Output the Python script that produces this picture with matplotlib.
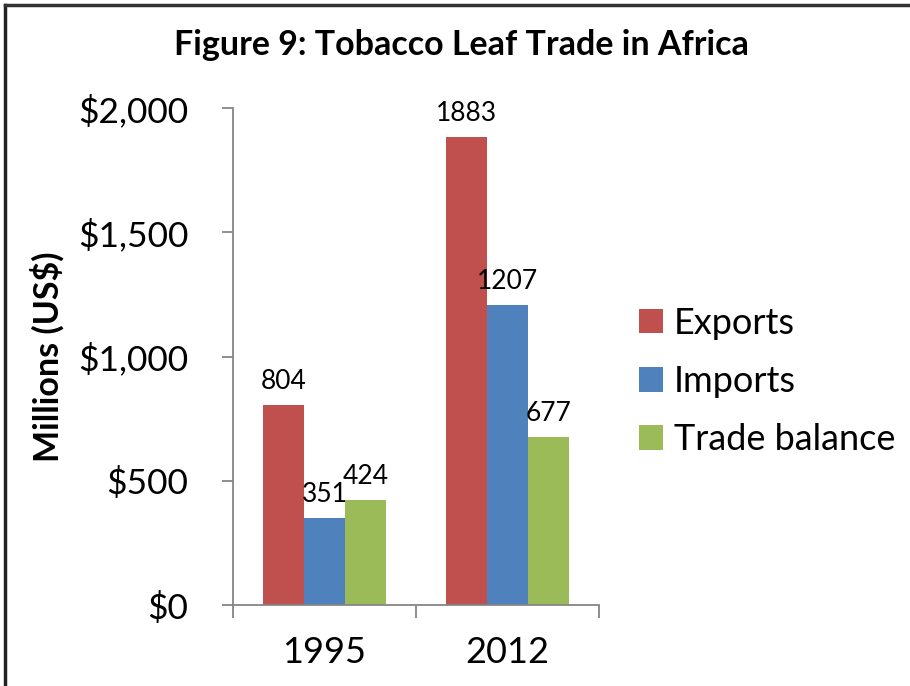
import matplotlib.pyplot as plt
from matplotlib.lines import Line2D
from matplotlib.ticker import FuncFormatter
import numpy as np

# chart data
years = ['1995', '2012']
series_names = ['Exports', 'Imports', 'Trade balance']
exports = [804, 1883]
imports = [351, 1207]
trade_balance = [424, 677]
colors = ['#C0504D', '#4F81BD', '#9BBB59']

plt.rcParams['font.family'] = ['Lato', 'DejaVu Sans']

fig = plt.figure(figsize=(9.10, 6.86), dpi=100)
ax = fig.add_axes([0.256, 0.118, 0.402, 0.7245])

x = np.arange(len(years))
width = 0.224
for i, (vals, name) in enumerate(zip([exports, imports, trade_balance], series_names)):
    pos = x + (i - 1) * width
    bars = ax.bar(pos, vals, width, color=colors[i], label=name, zorder=2)
    for b, v in zip(bars, vals):
        ax.annotate(str(v), (b.get_x() + b.get_width() / 2, v),
                    xytext=(0, 8), textcoords='offset points',
                    ha='center', va='bottom', fontsize=19)

ax.set_xlim(-0.5, 1.5)
ax.set_ylim(0, 2000)
ax.set_yticks([0, 500, 1000, 1500, 2000])
ax.yaxis.set_major_formatter(FuncFormatter(lambda v, p: '${:,.0f}'.format(v)))
ax.set_xticks(x)
ax.set_xticklabels(years)
ax.set_xticks([-0.5, 0.5, 1.5], minor=True)

axis_grey = '#868686'
for side in ['top', 'right']:
    ax.spines[side].set_visible(False)
for side in ['left', 'bottom']:
    ax.spines[side].set_color(axis_grey)
    ax.spines[side].set_linewidth(1.3)

ax.tick_params(axis='y', length=8, width=1.3, color=axis_grey, labelsize=25.5, pad=24)
ax.tick_params(axis='x', which='major', length=0, labelsize=26, pad=22)
ax.tick_params(axis='x', which='minor', length=9, width=1.3, color=axis_grey)

ax.set_ylabel('Millions (US$)', fontsize=24.5, fontweight='bold', labelpad=10)
fig.suptitle('Figure 9: Tobacco Leaf Trade in Africa', x=0.507, y=0.958,
             fontsize=24.5, fontweight='bold')

ax.legend(loc='center left', bbox_to_anchor=(1.02, 0.45), frameon=False,
          fontsize=26, handlelength=0.68, handleheight=0.68, handletextpad=0.3,
          labelspacing=0.7)

# chart frame (left and top edges)
fig.add_artist(Line2D([0.006, 0.006], [0, 0.993], color='#222222', lw=2.5))
fig.add_artist(Line2D([0.006, 1], [0.993, 0.993], color='#333333', lw=2.5))

fig.savefig('out.png', dpi=100)
